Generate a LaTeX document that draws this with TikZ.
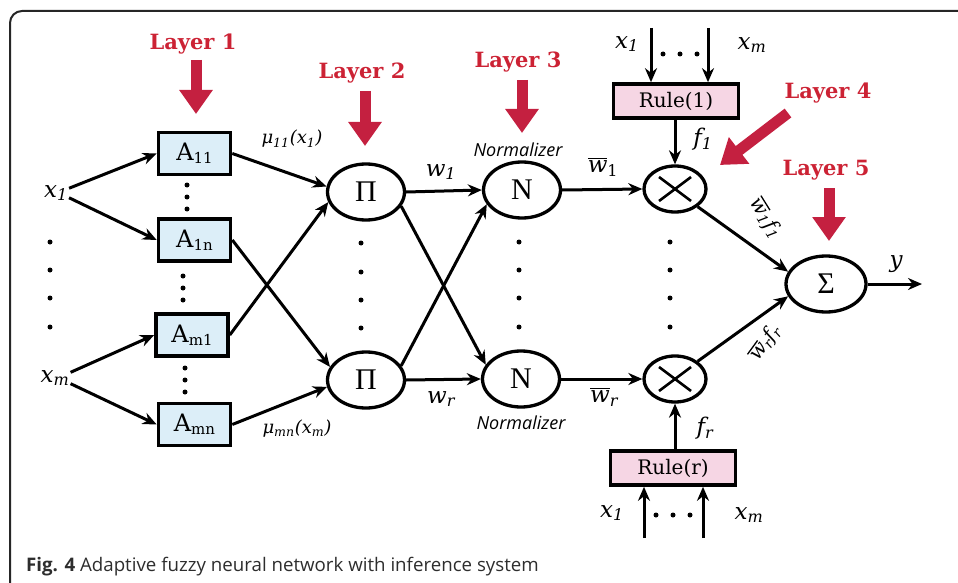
\documentclass[tikz,border=0pt]{standalone}
\usepackage{fontspec}
\setmainfont{DejaVu Serif}
\newfontfamily\capfont{Open Sans}
\newfontfamily\thinserif{Liberation Serif}
\usetikzlibrary{arrows.meta,shapes.geometric}
\definecolor{layerred}{RGB}{204,34,52}
\definecolor{arrred}{RGB}{196,32,64}
\definecolor{boxblue}{RGB}{220,238,248}
\definecolor{rulepink}{RGB}{246,214,228}
\definecolor{capgray}{RGB}{45,45,45}
\newcommand\ovw{\vbox{\hrule height 1.3pt\kern 2pt\hbox{\itshape w}}}
\newcommand\subs[1]{\raisebox{-3pt}{\fontsize{15}{15}\selectfont #1}}
\tikzset{
  fbox/.style={draw, line width=3.6pt, fill=boxblue, minimum width=72pt, minimum height=42pt, inner sep=0pt, font=\fontsize{24}{24}\selectfont},
  rbox/.style={draw, line width=3.6pt, fill=rulepink, minimum width=125pt, minimum height=34pt, inner sep=0pt, font=\fontsize{20}{20}\selectfont},
  ell/.style={draw, ellipse, line width=3.3pt, minimum width=77pt, minimum height=56pt, inner sep=0pt, font=\thinserif\fontsize{30}{30}\selectfont},
  xell/.style={draw, ellipse, line width=3.3pt, minimum width=62pt, minimum height=46pt, inner sep=0pt,
    path picture={\draw[line width=2.6pt] ([shift={(-16pt,-12pt)}]path picture bounding box.center) -- ++(32pt,24pt);
                  \draw[line width=2.6pt] ([shift={(-16pt,12pt)}]path picture bounding box.center) -- ++(32pt,-24pt);}},
  conn/.style={line width=3pt, -{Stealth[length=14pt,width=12pt]}},
  layer/.style={text=layerred, font=\bfseries\fontsize{21}{21}\selectfont},
  layarrow/.style={draw=arrred, line width=11pt, -{Triangle[length=24pt,width=32pt]}},
  lab/.style={font=\itshape\fontsize{23}{23}\selectfont, inner sep=1pt},
  slab/.style={font=\itshape\fontsize{18}{18}\selectfont, inner sep=1pt},
  norm/.style={font=\capfont\itshape\fontsize{18}{18}\selectfont, inner sep=1pt},
  dot/.style={circle, fill, inner sep=0pt, minimum size=5pt}
}
\begin{document}
\begin{tikzpicture}[x=1pt,y=-1pt]
\useasboundingbox (0,0) rectangle (958,583);
% frame
\draw[line width=2pt, rounded corners=12pt, draw=black!85] (958,11) -- (10,11) -- (10,583);

% layer labels and arrows
\node[layer] (L1) at (193,44) {Layer 1};
\coordinate (L1a) at (196,60); \coordinate (L1b) at (196,114);
\draw[layarrow] (L1a) -- (L1b);
\node[layer] (L2) at (362,73) {Layer 2};
\coordinate (L2a) at (365,91); \coordinate (L2b) at (365,146);
\draw[layarrow] (L2a) -- (L2b);
\node[layer] (L3) at (518,62) {Layer 3};
\coordinate (L3a) at (522,80); \coordinate (L3b) at (522,133);
\draw[layarrow] (L3a) -- (L3b);
\node[layer] (L4) at (828,93) {Layer 4};
\coordinate (L4a) at (788,113); \coordinate (L4b) at (720,165);
\draw[layarrow] (L4a) -- (L4b);
\node[layer] (L5) at (826,170) {Layer 5};
\coordinate (L5a) at (829,188); \coordinate (L5b) at (829,241);
\draw[layarrow] (L5a) -- (L5b);

% inputs
\node[lab] (x1) at (56,193) {x\textsubscript{1}};
\node[lab] (xm) at (55,378) {x\textsubscript{m}};
\foreach \y in {242,270,298,327} \node[dot] at (50,\y) {};

% layer 1 boxes
\node[fbox] (A11) at (194.5,153.5) {A\subs{11}};
\node[fbox] (A1n) at (194.5,240) {A\subs{1n}};
\node[fbox] (Am1) at (192,335) {A\subs{m1}};
\node[fbox] (Amn) at (194.5,424.5) {A\subs{mn}};
\foreach \y in {185,197,209} \node[dot] at (187,\y) {};
\foreach \y in {276,288,300} \node[dot] at (183,\y) {};
\foreach \y in {368,380,392} \node[dot] at (185,\y) {};

\draw[conn] (x1.20) -- (A11.west);
\draw[conn] (x1.-20) -- (A1n.west);
\draw[conn] (xm.20) -- (Am1.west);
\draw[conn] (xm.-20) -- (Amn.west);

% layer 2
\node[ell] (P1) at (366,192) {Π};
\node[ell] (Pr) at (366,380) {Π};
\foreach \y in {243,272,300,328} \node[dot] at (361,\y) {};
\draw[conn] (A11.east) -- (P1.172);
\draw[conn] (Am1.east) -- (P1.195);
\draw[conn] (A1n.east) -- (Pr.160);
\draw[conn] (Amn.east) -- (Pr.190);
\node[slab] (mu1) at (292,139) {μ\textsubscript{11}(x\textsubscript{1})};
\node[slab] (mun) at (297,429) {μ\textsubscript{mn}(x\textsubscript{m})};

% layer 3
\node[ell] (N1) at (522,190) {N};
\node[ell] (Nr) at (521,379) {N};
\foreach \y in {242,270,298,327} \node[dot] at (519,\y) {};
\node[norm] (nz1) at (518,150) {Normalizer};
\node[norm] (nzr) at (521,423) {Normalizer};
\draw[conn] (P1.east) -- (N1.west);
\draw[conn] (Pr.east) -- (Nr.west);
\draw[conn] (P1.-22) -- (Nr.158);
\draw[conn] (Pr.22) -- (N1.202);
\node[lab] (w1) at (441,172) {w\textsubscript{1}};
\node[lab] (wr) at (441,399) {w\textsubscript{r}};

% layer 4
\node[xell] (X1) at (675,189) {};
\node[xell] (Xr) at (675,379) {};
\foreach \y in {242,270,298,327} \node[dot] at (670,\y) {};
\draw[conn] (N1.east) -- (X1.west);
\draw[conn] (Nr.east) -- (Xr.west);
\node[lab] (wb1) at (603,167) {\ovw\textsubscript{\upshape 1}};
\node[lab] (wbr) at (604,397) {\ovw\textsubscript{r}};

\node[rbox] (R1) at (676,101) {Rule(1)};
\node[rbox] (Rr) at (673,468) {Rule(r)};
\coordinate (r1a) at (651,28); \coordinate (r1b) at (708,28);
\draw[conn] (r1a) -- (r1a |- R1.north);
\draw[conn] (r1b) -- (r1b |- R1.north);
\node[lab] (rx1) at (627,44) {x\textsubscript{1}};
\node[lab] (rxm) at (752,45) {x\textsubscript{m}};
\foreach \x in {663,680,697} \node[dot] at (\x,54) {};
\draw[conn] (R1.south -| X1.north) -- (X1.north);
\node[lab] (f1) at (703,139) {f\textsubscript{1}};

\coordinate (rra) at (644,538); \coordinate (rrb) at (703,538);
\draw[conn] (rra) -- (rra |- Rr.south);
\draw[conn] (rrb) -- (rrb |- Rr.south);
\node[lab] (sx1) at (612,513) {x\textsubscript{1}};
\node[lab] (sxm) at (749,515) {x\textsubscript{m}};
\foreach \x in {656,673,690} \node[dot] at (\x,515) {};
\draw[conn] (Rr.north -| Xr.south) -- (Xr.south);
\node[lab] (fr) at (705,428) {f\textsubscript{r}};

% layer 5
\node[ell, minimum width=80pt] (S) at (826,284) {Σ};
\draw[conn] (X1.-38) -- (S.162);
\draw[conn] (Xr.38) -- (S.198);
\node[lab, rotate=-58, font=\itshape\fontsize{20}{20}\selectfont] (wf1) at (766,218) {\ovw\textsubscript{1}f\textsubscript{1}};
\node[lab, rotate=54, font=\itshape\fontsize{20}{20}\selectfont] (wfr) at (765,343) {\ovw\textsubscript{r}f\textsubscript{r}};
\coordinate (yend) at (922,284);
\draw[conn] (S.east) -- (yend);
\node[lab] (y) at (896,264) {y};

% caption
\node[anchor=west, inner sep=0pt, text=capgray] (cap) at (26,567) {\capfont\fontsize{18.7}{18.7}\selectfont\textbf{Fig. 4} Adaptive fuzzy neural network with inference system};
\end{tikzpicture}
\end{document}
